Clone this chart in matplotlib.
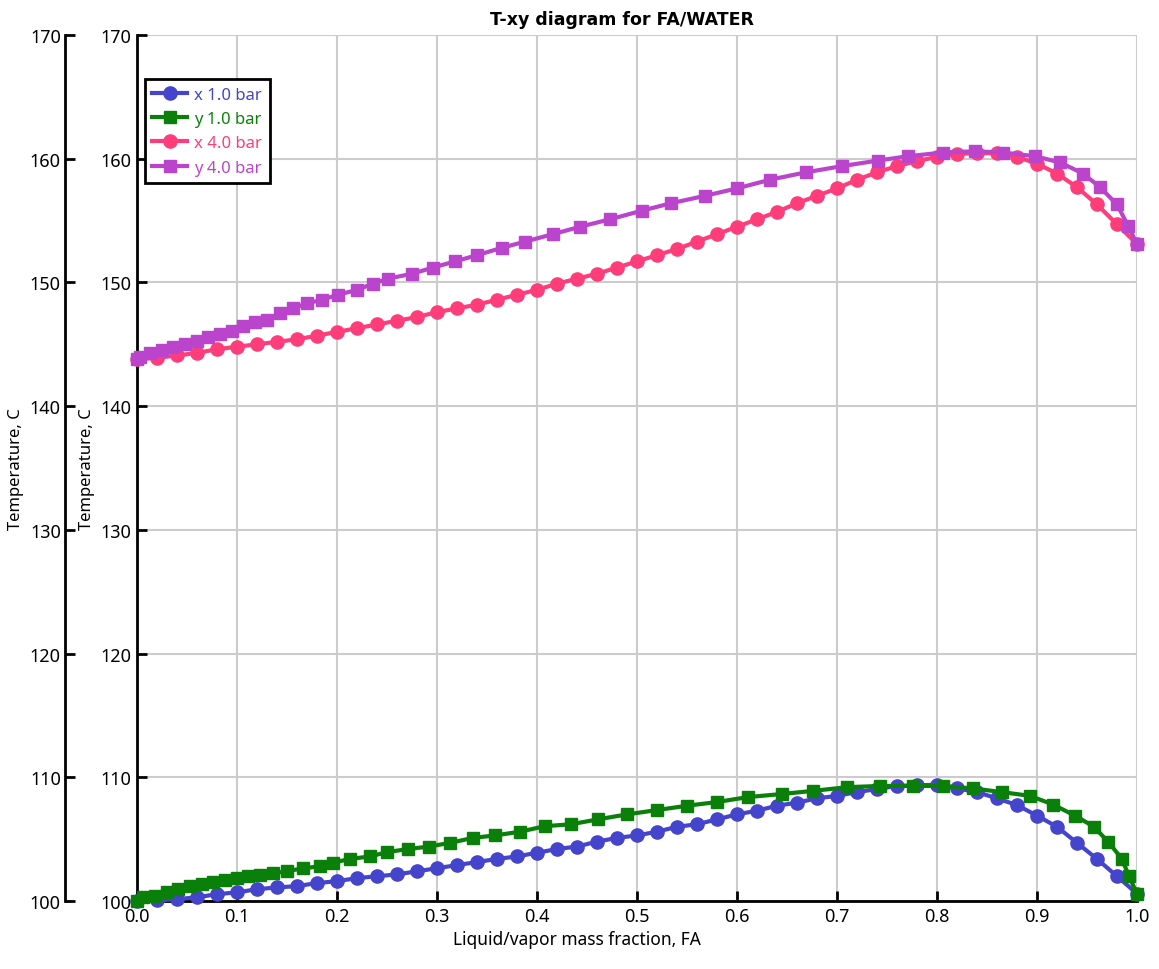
import matplotlib.pyplot as plt
from matplotlib.ticker import MultipleLocator, FormatStrFormatter

plt.rcParams['font.family'] = ['Noto Sans', 'DejaVu Sans']

# x 1.0 bar (liquid)
x1 = [0.00, 0.02, 0.04, 0.06, 0.08, 0.10, 0.12, 0.14, 0.16, 0.18, 0.20, 0.22, 0.24,
      0.26, 0.28, 0.30, 0.32, 0.34, 0.36, 0.38, 0.40, 0.42, 0.44, 0.46, 0.48, 0.50,
      0.52, 0.54, 0.56, 0.58, 0.60, 0.62, 0.64, 0.66, 0.68, 0.70, 0.72, 0.74, 0.76,
      0.78, 0.80, 0.82, 0.84, 0.86, 0.88, 0.90, 0.92, 0.94, 0.96, 0.98, 1.00]
t_x1 = [100.0, 100.05, 100.15, 100.3, 100.55, 100.7, 100.95, 101.1, 101.2, 101.45, 101.6,
        101.85, 102.0, 102.15, 102.4, 102.65, 102.9, 103.15, 103.4, 103.6, 103.9, 104.2,
        104.4, 104.8, 105.1, 105.3, 105.6, 106.0, 106.2, 106.6, 107.0, 107.3, 107.7,
        107.95, 108.3, 108.5, 108.8, 109.05, 109.3, 109.35, 109.4, 109.1, 108.8, 108.3,
        107.75, 106.9, 106.0, 104.7, 103.4, 102.0, 100.6]

# y 1.0 bar (vapor)
y1 = [0.000, 0.006, 0.018, 0.030, 0.041, 0.053, 0.065, 0.076, 0.088, 0.100, 0.111, 0.123,
      0.136, 0.150, 0.166, 0.183, 0.196, 0.213, 0.233, 0.250, 0.271, 0.292, 0.313, 0.336,
      0.358, 0.383, 0.408, 0.434, 0.461, 0.490, 0.520, 0.550, 0.580, 0.611, 0.645, 0.676,
      0.710, 0.743, 0.776, 0.806, 0.836, 0.865, 0.893, 0.916, 0.938, 0.957, 0.971, 0.985,
      0.992, 1.000]
t_y1 = [100.0, 100.3, 100.4, 100.7, 101.0, 101.2, 101.4, 101.5, 101.7, 101.85, 102.0, 102.1,
        102.25, 102.4, 102.65, 102.8, 103.1, 103.4, 103.6, 103.95, 104.2, 104.4, 104.7,
        105.1, 105.3, 105.6, 106.05, 106.2, 106.6, 107.0, 107.35, 107.7, 108.0, 108.4,
        108.65, 108.9, 109.2, 109.3, 109.3, 109.3, 109.1, 108.8, 108.5, 107.8, 106.9,
        106.0, 104.8, 103.4, 102.0, 100.6]

# x 4.0 bar (liquid)
x4 = [0.00, 0.02, 0.04, 0.06, 0.08, 0.10, 0.12, 0.14, 0.16, 0.18, 0.20, 0.22, 0.24,
      0.26, 0.28, 0.30, 0.32, 0.34, 0.36, 0.38, 0.40, 0.42, 0.44, 0.46, 0.48, 0.50,
      0.52, 0.54, 0.56, 0.58, 0.60, 0.62, 0.64, 0.66, 0.68, 0.70, 0.72, 0.74, 0.76,
      0.78, 0.80, 0.82, 0.84, 0.86, 0.88, 0.90, 0.92, 0.94, 0.96, 0.98, 1.00]
t_x4 = [143.8, 143.9, 144.1, 144.3, 144.6, 144.8, 145.0, 145.2, 145.4, 145.7, 146.0,
        146.3, 146.6, 146.9, 147.2, 147.6, 147.9, 148.2, 148.6, 149.0, 149.4, 149.9,
        150.3, 150.7, 151.2, 151.7, 152.2, 152.7, 153.3, 153.9, 154.5, 155.1, 155.7,
        156.4, 157.0, 157.6, 158.3, 158.9, 159.4, 159.8, 160.15, 160.4, 160.45, 160.45,
        160.15, 159.6, 158.8, 157.7, 156.3, 154.7, 153.1]

# y 4.0 bar (vapor)
y4 = [0.000, 0.003, 0.013, 0.025, 0.036, 0.048, 0.060, 0.071, 0.083, 0.095, 0.106, 0.118,
      0.130, 0.143, 0.156, 0.170, 0.185, 0.201, 0.220, 0.236, 0.251, 0.275, 0.296, 0.318,
      0.340, 0.365, 0.388, 0.416, 0.443, 0.473, 0.505, 0.534, 0.568, 0.600, 0.633, 0.669,
      0.705, 0.741, 0.771, 0.806, 0.838, 0.866, 0.898, 0.923, 0.946, 0.963, 0.980, 0.991,
      1.000]
t_y4 = [143.8, 144.0, 144.3, 144.5, 144.8, 145.0, 145.3, 145.6, 145.8, 146.1, 146.5, 146.8,
        147.0, 147.5, 147.9, 148.3, 148.6, 149.0, 149.4, 149.9, 150.3, 150.7, 151.2, 151.7,
        152.2, 152.8, 153.3, 153.9, 154.5, 155.1, 155.8, 156.4, 157.0, 157.6, 158.3, 158.9,
        159.4, 159.85, 160.2, 160.5, 160.6, 160.5, 160.2, 159.7, 158.8, 157.7, 156.3,
        154.6, 153.1]

blue = '#4444cc'
green = '#0a800a'
pink = '#ff3d7a'
purple = '#bb44cc'

fig = plt.figure(figsize=(11.59, 9.70), dpi=100)
ax = fig.add_axes([0.1182, 0.0701, 0.8628, 0.8928])

ax.plot(x1, t_x1, '-o', color=blue, lw=3, ms=9.5, label='x 1.0 bar', clip_on=False, zorder=3)
ax.plot(y1, t_y1, '-s', color=green, lw=3, ms=9, label='y 1.0 bar', clip_on=False, zorder=3)
ax.plot(x4, t_x4, '-o', color=pink, lw=3, ms=9.5, label='x 4.0 bar', clip_on=False, zorder=3)
ax.plot(y4, t_y4, '-s', color=purple, lw=3, ms=9, label='y 4.0 bar', clip_on=False, zorder=3)

ax.set_xlim(0, 1)
ax.set_ylim(100, 170)
ax.xaxis.set_major_locator(MultipleLocator(0.1))
ax.xaxis.set_major_formatter(FormatStrFormatter('%.1f'))
ax.yaxis.set_major_locator(MultipleLocator(10))
ax.grid(True, color='#cccccc', lw=1.5)
ax.set_axisbelow(True)
for s in ['top', 'right']:
    ax.spines[s].set_visible(False)
for s in ['left', 'bottom']:
    ax.spines[s].set_linewidth(2)
ax.tick_params(direction='in', length=7, width=2, labelsize=13, pad=4)
ax.set_xlabel('Liquid/vapor mass fraction, FA', fontsize=12.5, x=0.44)
ax.set_ylabel('Temperature, C', fontsize=12, labelpad=4)
ax.set_title('T-xy diagram for FA/WATER', fontsize=12.5, fontweight='bold',
             family='DejaVu Sans', pad=8, x=0.485)

# second (outer) temperature axis
ax2 = ax.twinx()
ax2.set_ylim(100, 170)
ax2.yaxis.set_major_locator(MultipleLocator(10))
ax2.spines['left'].set_position(('axes', -0.072))
ax2.spines['left'].set_visible(True)
ax2.spines['left'].set_linewidth(2)
for s in ['top', 'right', 'bottom']:
    ax2.spines[s].set_visible(False)
ax2.yaxis.set_ticks_position('left')
ax2.yaxis.set_label_position('left')
ax2.tick_params(direction='in', length=7, width=2, labelsize=13, pad=3)
ax2.set_ylabel('Temperature, C', fontsize=12, labelpad=4)

leg = ax.legend(loc='upper left', bbox_to_anchor=(0.008, 0.949), borderaxespad=0,
                fontsize=12, labelcolor='linecolor', fancybox=False, framealpha=1,
                handlelength=2.1, borderpad=0.45, labelspacing=0.5, handletextpad=0.4)
leg.get_frame().set_edgecolor('black')
leg.get_frame().set_linewidth(2)

fig.savefig('out.png', dpi=100)
